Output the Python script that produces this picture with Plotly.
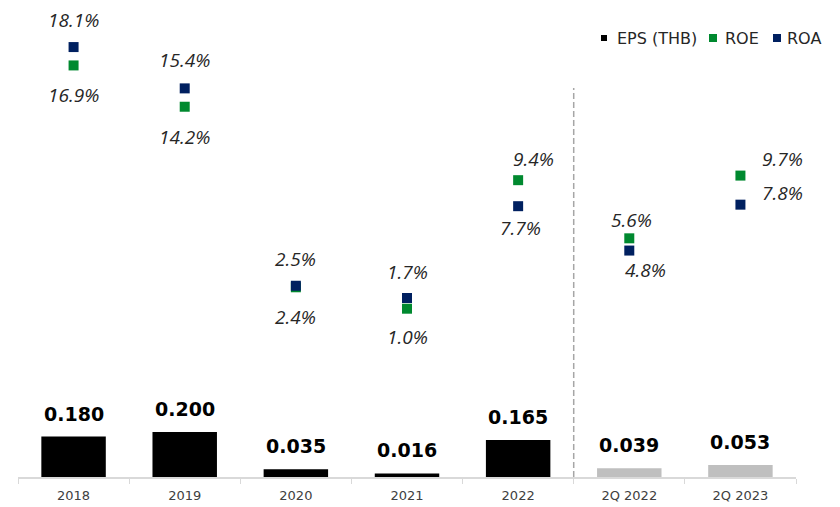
import plotly.graph_objects as go

# Periods and reported figures
periods = ["2018", "2019", "2020", "2021", "2022", "2Q 2022", "2Q 2023"]
eps_thb = [0.180, 0.200, 0.035, 0.016, 0.165, 0.039, 0.053]
roe_pct = [16.9, 14.2, 2.4, 1.0, 9.4, 5.6, 9.7]
roa_pct = [18.1, 15.4, 2.5, 1.7, 7.7, 4.8, 7.8]
bar_colors = ["#000000"] * 5 + ["#BFBFBF"] * 2

# Pixel nudges (xshift, yshift) for the upper / lower ratio label of each period
upper_shift = [(0, 27), (0, 28), (0, 27), (0, 26), (15, 21), (2, 18), (42, 17)]
lower_shift = [(0, -30), (0, -30), (0, -30), (0, -28), (2, -22), (16, -19), (42, 12)]

LABEL_FONT = "Open Sans"
SANS = "DejaVu Sans"
GREEN = "#00892F"
NAVY = "#002060"
TEXT = "#262626"

fig = go.Figure()

fig.add_trace(go.Bar(
    x=periods, y=eps_thb, name="EPS (THB)",
    marker=dict(color=bar_colors, line=dict(width=0)),
    hoverinfo="skip", showlegend=False,
))
fig.add_trace(go.Scatter(
    x=periods, y=roe_pct, name="ROE", mode="markers", yaxis="y2",
    marker=dict(symbol="square", size=10, color=GREEN), showlegend=False,
))
fig.add_trace(go.Scatter(
    x=periods, y=roa_pct, name="ROA", mode="markers", yaxis="y2",
    marker=dict(symbol="square", size=10, color=NAVY), showlegend=False,
))

annotations = []
# EPS labels above the bars (x given as category index)
for i, v in enumerate(eps_thb):
    annotations.append(dict(
        x=i, y=v, xref="x", yref="y", text=f"<b>{v:.3f}</b>",
        showarrow=False, yanchor="bottom", yshift=10,
        font=dict(family=SANS, size=19, color="#000000"),
    ))
# Ratio labels: higher value above its marker, lower value below
for i, (e, a) in enumerate(zip(roe_pct, roa_pct)):
    hi, lo = (a, e) if a >= e else (e, a)
    for val, (dx, dy) in ((hi, upper_shift[i]), (lo, lower_shift[i])):
        annotations.append(dict(
            x=i, y=val, xref="x", yref="y2", text=f"<i>{val:.1f}%</i>",
            showarrow=False, yanchor="middle", xshift=dx, yshift=dy,
            font=dict(family=LABEL_FONT, size=19, color=TEXT),
        ))

# Compact legend in the top-right corner: colour chip + series name
W, H = 840, 507
ML, MR, MT, MB = 18, 44, 5, 30
PW, PH = W - ML - MR, H - MT - MB


def px_x(p):
    return (p - ML) / PW


def px_y(p):
    return (H - MB - p) / PH


legend_items = [("EPS (THB)", "#000000", 604, 615, 6),
                ("ROE", GREEN, 713, 723, 8),
                ("ROA", NAVY, 777, 785, 8)]
LEG_Y = 38
shapes = []
for name, color, chip_x, text_x, size in legend_items:
    shapes.append(dict(
        type="rect", xref="paper", yref="paper",
        x0=px_x(chip_x - size / 2), x1=px_x(chip_x + size / 2),
        y0=px_y(LEG_Y + size / 2), y1=px_y(LEG_Y - size / 2),
        fillcolor=color, line=dict(width=0),
    ))
    annotations.append(dict(
        x=px_x(text_x), y=px_y(LEG_Y), xref="paper", yref="paper",
        text=name, showarrow=False, xanchor="left", yanchor="middle",
        font=dict(family=SANS, size=16, color=TEXT),
    ))

# Divider between full-year and quarterly periods
shapes.append(dict(
    type="line", xref="x", yref="paper", x0=4.5, x1=4.5, y0=0, y1=px_y(88),
    line=dict(color="#A6A6A6", width=1.5, dash="6px,3px"),
))

fig.update_layout(
    width=W, height=H,
    margin=dict(l=ML, r=MR, t=MT, b=MB),
    paper_bgcolor="white", plot_bgcolor="white",
    bargap=0.42,
    showlegend=False,
    xaxis=dict(
        type="category", categoryorder="array", categoryarray=periods,
        range=[-0.5, len(periods) - 0.5],
        showline=True, linecolor="#D9D9D9", linewidth=1.5,
        ticks="outside", tickson="boundaries", ticklen=5, tickcolor="#D9D9D9",
        ticklabelstandoff=6,
        showgrid=False, zeroline=False, tickangle=0,
        tickfont=dict(family=SANS, size=13, color="#404040"),
    ),
    yaxis=dict(range=[0, 2.098], visible=False, showgrid=False, zeroline=False),
    yaxis2=dict(range=[-10, 20.85], overlaying="y", visible=False,
                showgrid=False, zeroline=False),
    annotations=annotations,
    shapes=shapes,
)

fig.write_html("out.html")
